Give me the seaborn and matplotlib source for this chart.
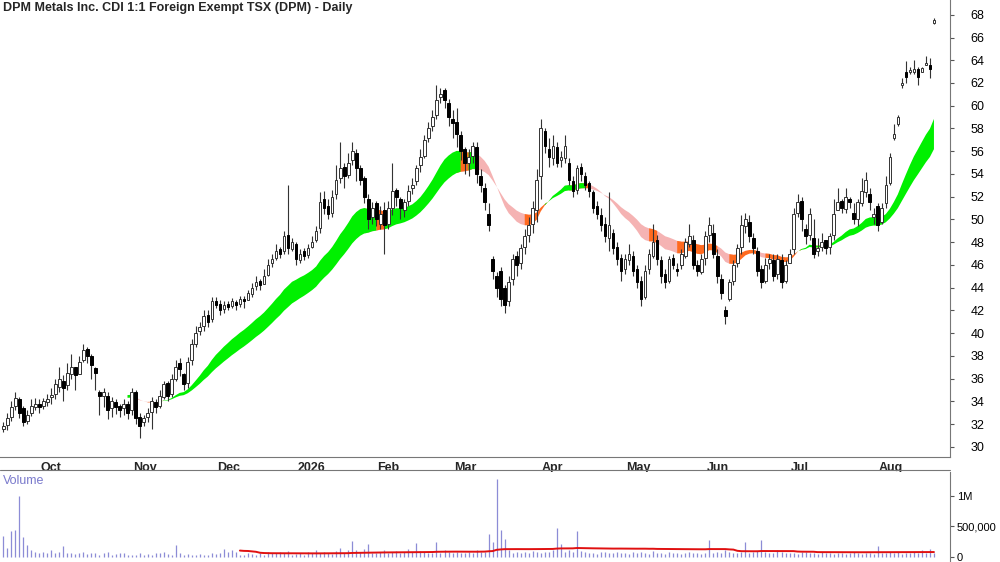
import numpy as np
import pandas as pd
import matplotlib
matplotlib.use("Agg")
import matplotlib.pyplot as plt
import seaborn as sns

sns.set_style("white")
plt.rcParams["font.family"] = ["Liberation Sans", "DejaVu Sans"]

# ---- daily candles, month by month (Sep tail 2025 .. Aug 2026) ----
closes = [
    31.8, 32.5, 33.5, 34.3, 33.0, 32.2, 32.8, 33.6, 33.8,
    33.5, 34.0, 34.2, 34.5, 35.5, 36.0, 35.2, 36.5, 37.0, 36.3, 37.5, 38.5, 38.0, 37.2, 36.5, 34.5, 34.8, 33.2, 34.0, 33.5, 33.2, 33.8, 33.0,
    34.8, 32.5, 31.8, 32.5, 33.0, 34.0, 33.5, 34.5, 35.5, 34.5, 36.0, 37.0, 36.8, 35.5, 37.5, 39.0, 40.0, 40.5, 41.5, 41.0, 42.8,
    42.5, 42.0, 42.5, 42.3, 42.8, 42.5, 43.0, 42.8, 43.5, 44.0, 44.5, 44.2, 45.0, 46.0, 46.5, 47.2, 47.0, 48.5, 47.5, 48.0,
    46.5, 47.0, 46.8, 47.5, 48.0, 49.0, 51.5, 51.0, 50.5, 52.0, 53.5, 54.5, 53.8, 55.0, 56.0, 54.5, 53.5, 52.0, 50.0, 51.0,
    50.0, 50.5, 49.5, 51.0, 52.5, 52.0, 51.0, 51.5, 52.5, 53.0, 54.5, 55.5, 57.0, 58.0, 59.0, 60.5, 61.0, 60.5, 59.0,
    58.5, 57.5, 56.0, 55.0, 55.5, 56.5, 54.0, 53.0, 51.5, 49.5, 45.5, 44.0, 43.0, 42.5, 44.5, 46.5, 46.0, 47.5, 48.5, 49.5, 51.0, 53.5,
    58.0, 56.5, 55.5, 56.5, 55.0, 55.5, 56.5, 53.5, 52.5, 54.5, 54.0, 53.0, 52.5, 51.0, 50.5, 49.5, 48.5, 49.5, 47.5, 46.5, 45.5,
    46.5, 47.0, 45.5, 44.5, 43.0, 45.5, 47.0, 48.0, 46.5, 45.0, 44.5, 46.5, 46.0, 45.5, 47.0, 48.0, 48.5, 46.0, 45.5, 46.5,
    48.5, 49.5, 47.0, 45.0, 43.5, 41.5, 44.5, 46.0, 47.5, 49.5, 50.0, 48.5, 47.5, 45.5, 44.5, 46.0, 46.5, 45.0, 46.5, 44.5, 46.0,
    47.0, 50.5, 51.5, 50.0, 48.5, 50.5, 47.0, 47.5, 48.0, 47.5, 48.5, 50.5, 51.5, 51.0, 52.0, 51.5, 50.0, 51.5, 52.5, 53.5, 51.5, 50.5,
    49.5, 51.0, 53.0, 55.5, 57.5, 59.0, 62.0, 62.5, 63.0, 63.2, 62.5, 63.3, 63.8, 63.2, 67.5,
]
opens = [
    31.6, 31.9, 32.6, 33.6, 34.2, 33.4, 32.3, 33.0, 33.5,
    33.8, 33.6, 33.9, 34.4, 34.6, 35.3, 35.8, 35.4, 36.4, 37.0, 36.4, 37.6, 38.6, 38.0, 36.9, 34.8, 34.5, 34.5, 33.4, 33.9, 33.6, 33.4, 33.8,
    33.2, 34.8, 32.6, 32.2, 32.6, 33.1, 33.9, 33.6, 34.4, 35.6, 34.6, 36.0, 37.4, 36.4, 35.6, 37.6, 39.0, 40.2, 40.6, 41.6, 41.2,
    42.8, 42.6, 42.1, 42.6, 42.4, 42.7, 42.6, 43.0, 42.9, 43.4, 44.1, 44.6, 44.3, 45.1, 46.2, 46.6, 47.4, 47.2, 48.6, 47.4,
    47.8, 46.4, 47.2, 46.9, 47.6, 48.2, 49.2, 51.8, 51.2, 50.6, 52.2, 53.6, 54.6, 53.9, 55.2, 55.8, 54.5, 53.6, 51.8, 50.2,
    51.4, 49.6, 50.8, 49.6, 51.0, 52.6, 51.8, 50.8, 51.6, 52.8, 53.4, 54.8, 55.6, 57.2, 58.2, 59.2, 60.8, 61.4, 60.2,
    58.8, 58.6, 57.4, 56.2, 55.0, 55.6, 56.4, 53.8, 52.8, 50.5, 46.5, 45.0, 45.5, 44.0, 42.8, 44.8, 46.8, 46.2, 47.6, 48.6, 49.6, 50.8,
    53.8, 57.8, 56.2, 55.4, 56.4, 55.2, 55.4, 55.0, 53.4, 52.6, 54.6, 53.8, 53.2, 52.4, 51.2, 50.4, 49.6, 48.4, 48.8, 47.6, 46.6,
    45.6, 46.4, 46.8, 45.6, 44.6, 43.2, 45.6, 46.8, 48.2, 46.4, 45.2, 44.6, 46.6, 45.6, 46.0, 46.8, 47.8, 48.2, 46.0, 45.4,
    46.6, 48.6, 48.8, 46.8, 44.8, 42.0, 43.0, 44.6, 46.2, 47.6, 49.4, 49.8, 48.4, 47.2, 45.6, 44.6, 46.2, 46.4, 45.2, 46.4, 44.6,
    46.2, 47.4, 50.6, 51.6, 49.2, 48.6, 48.4, 47.2, 47.6, 48.2, 47.6, 48.6, 50.8, 51.6, 50.9, 51.8, 50.6, 50.0, 51.4, 52.4, 52.2, 50.2,
    51.2, 49.8, 51.4, 53.2, 57.2, 58.4, 61.8, 63.0, 63.0, 63.0, 63.2, 63.0, 63.6, 63.6, 67.3,
]
highs = [
    32.2, 33.0, 34.0, 34.8, 34.4, 33.6, 33.2, 34.2, 34.3,
    34.2, 34.3, 34.6, 35.2, 36.0, 37.0, 36.3, 37.4, 38.2, 37.0, 38.0, 39.0, 38.8, 38.2, 37.0, 35.0, 35.2, 34.8, 34.4, 34.2, 33.8, 34.2, 34.0,
    35.2, 35.0, 33.0, 32.8, 33.4, 34.4, 34.2, 35.0, 35.8, 35.8, 36.4, 37.6, 37.8, 36.5, 37.9, 39.5, 40.6, 41.0, 42.0, 42.0, 43.2,
    43.2, 42.9, 42.8, 42.8, 43.1, 42.9, 43.3, 43.3, 43.8, 44.4, 45.0, 44.8, 45.6, 46.5, 47.0, 47.8, 47.6, 49.0, 53.0, 48.4,
    48.0, 47.4, 47.5, 47.8, 48.5, 49.4, 52.4, 52.5, 51.8, 52.6, 54.8, 56.8, 55.0, 55.8, 56.8, 56.2, 54.8, 53.8, 52.2, 51.5,
    51.6, 51.2, 51.5, 51.6, 55.0, 52.8, 52.0, 51.8, 53.0, 53.6, 54.8, 56.2, 57.4, 58.6, 59.6, 61.8, 61.6, 61.6, 60.6,
    59.6, 59.8, 57.8, 56.4, 56.2, 56.8, 56.8, 54.4, 53.2, 51.4, 46.8, 45.4, 45.8, 44.2, 45.0, 47.0, 47.2, 47.8, 49.2, 50.2, 51.6, 54.4,
    58.8, 58.0, 57.2, 57.4, 56.8, 56.0, 57.4, 55.4, 53.8, 54.8, 55.0, 54.2, 53.4, 52.6, 51.6, 51.0, 50.2, 52.4, 49.2, 48.0, 47.0,
    47.0, 47.8, 47.2, 46.0, 45.0, 46.0, 47.4, 49.6, 48.6, 46.8, 45.6, 46.8, 47.0, 46.2, 47.4, 48.4, 49.6, 48.6, 46.4, 47.0,
    49.0, 50.2, 49.6, 47.4, 45.2, 42.4, 44.8, 46.4, 47.8, 50.4, 50.6, 50.4, 48.8, 47.6, 46.0, 46.6, 47.0, 47.0, 47.0, 47.0, 46.4,
    47.4, 51.0, 52.2, 52.0, 49.6, 51.0, 50.0, 48.4, 48.8, 48.2, 48.8, 51.8, 52.8, 51.8, 52.8, 52.0, 51.4, 51.8, 53.6, 54.2, 52.8, 51.0,
    51.4, 51.4, 53.8, 55.8, 58.4, 59.2, 62.4, 63.9, 63.4, 64.0, 63.4, 63.4, 64.4, 64.2, 67.7,
]
lows = [
    31.3, 31.5, 32.3, 33.2, 32.5, 31.8, 32.0, 32.7, 33.2,
    33.0, 33.3, 33.6, 33.8, 34.2, 34.8, 34.0, 35.0, 36.0, 35.0, 36.8, 37.5, 37.4, 36.0, 35.0, 32.8, 33.5, 32.4, 32.6, 32.9, 32.6, 32.8, 32.4,
    32.8, 32.0, 30.8, 31.8, 32.2, 31.6, 33.0, 33.4, 34.2, 34.0, 34.4, 35.8, 36.2, 35.0, 35.2, 37.2, 38.8, 39.8, 40.2, 40.5, 41.0,
    42.2, 41.6, 41.8, 42.0, 42.2, 42.0, 42.3, 42.2, 43.0, 43.2, 43.8, 43.8, 44.6, 45.0, 45.8, 46.4, 46.6, 47.0, 47.0, 47.2,
    46.0, 46.2, 46.4, 46.6, 47.5, 48.0, 48.8, 50.5, 50.0, 50.2, 51.8, 53.2, 52.8, 53.6, 54.8, 53.4, 53.0, 51.4, 49.2, 49.6,
    49.4, 49.2, 47.0, 49.2, 50.4, 51.2, 50.0, 50.2, 51.2, 52.2, 53.0, 54.2, 55.4, 56.8, 57.8, 58.8, 60.2, 59.8, 58.2,
    57.2, 56.4, 55.2, 54.0, 53.8, 55.0, 53.2, 52.4, 50.8, 49.0, 44.8, 43.2, 42.4, 41.8, 42.4, 44.2, 45.0, 45.6, 47.0, 48.0, 48.8, 49.8,
    51.8, 55.8, 54.6, 54.8, 54.6, 54.6, 55.0, 53.0, 52.0, 52.2, 53.4, 52.6, 52.0, 50.6, 50.0, 49.0, 48.0, 47.2, 47.0, 46.0, 44.6,
    45.2, 46.0, 45.0, 44.0, 42.4, 43.0, 45.2, 46.6, 46.0, 44.4, 44.0, 44.4, 45.6, 45.0, 45.6, 46.6, 47.6, 45.6, 45.0, 45.2,
    46.0, 48.0, 46.6, 44.4, 43.0, 40.8, 42.8, 44.2, 45.8, 47.0, 48.8, 48.0, 47.0, 45.0, 44.0, 44.4, 45.6, 44.6, 44.8, 44.0, 44.4,
    46.4, 47.0, 50.2, 49.0, 47.8, 48.2, 46.6, 46.8, 47.2, 47.0, 47.0, 48.2, 50.8, 50.6, 50.6, 51.0, 49.6, 49.4, 51.2, 52.0, 50.8, 49.6,
    49.0, 49.6, 51.0, 53.0, 57.0, 58.2, 61.6, 62.0, 62.8, 62.8, 61.8, 63.0, 63.6, 62.4, 67.2,
]
volume_k = [
    350, 150, 430, 440, 1000, 330, 200, 120, 90,
    60, 80, 70, 110, 60, 90, 180, 60, 70, 50, 60, 80, 50, 60, 70, 40, 60, 90, 40, 50, 70, 60, 40,
    30, 40, 60, 30, 50, 40, 60, 60, 80, 50, 40, 190, 60, 40, 50, 30, 40, 50, 30, 40, 70,
    50, 60, 130, 90, 110, 80, 30, 40, 60, 50, 30, 60, 40, 80, 60, 70, 90, 60, 100, 40,
    50, 70, 40, 80, 60, 120, 70, 90, 60, 50, 100, 150, 60, 120, 270, 120, 80, 130, 220, 70,
    60, 80, 110, 70, 90, 100, 60, 80, 140, 80, 230, 100, 80, 70, 60, 250, 60, 120, 90,
    60, 80, 70, 60, 90, 70, 110, 80, 90, 380, 250, 1270, 440, 300, 120, 60, 80, 70, 90, 60, 100, 80,
    60, 90, 80, 120, 470, 220, 80, 110, 90, 420, 100, 80, 60, 70, 50, 90, 80, 60, 70, 90, 60,
    60, 50, 80, 70, 90, 60, 50, 100, 70, 60, 50, 80, 60, 70, 50, 60, 90, 70, 60, 50,
    60, 280, 70, 90, 60, 110, 80, 60, 70, 90, 250, 60, 80, 100, 280, 90, 70, 60, 110, 80, 60,
    70, 60, 50, 90, 80, 60, 70, 50, 80, 60, 70, 50, 60, 70, 50, 60, 80, 60, 50, 70, 60, 50,
    180, 60, 70, 80, 60, 90, 50, 60, 70, 80, 60, 110, 70, 130, 60,
]
month_labels = ["Oct", "Nov", "Dec", "2026", "Feb", "Mar", "Apr", "May", "Jun", "Jul", "Aug"]
month_start = [9, 32, 53, 73, 93, 112, 134, 155, 175, 196, 218]
price_ticks = list(range(30, 70, 2))

df = pd.DataFrame({"open": opens, "high": highs, "low": lows, "close": closes,
                   "volume": np.array(volume_k) * 1000.0})
df["i"] = np.arange(len(df))
fast = df["close"].ewm(span=21, adjust=False).mean()
slow = df["close"].ewm(span=34, adjust=False).mean()
df["vavg"] = df["volume"].rolling(60).mean()

fig = plt.figure(figsize=(10, 5.62), dpi=100)
ax = fig.add_axes([0, 1 - 457 / 562, 0.95, 457 / 562])
axv = fig.add_axes([0, 0, 0.95, 90 / 562])

# band of the two averages, coloured by state
start = 31
x = df["i"].values[start:]
f = fast.values[start:]
s = slow.values[start:]
fslope = np.diff(fast.values)[start - 1:]
green = (f >= s) & (fslope >= 0)
orange = ~green & (fslope >= -0.05)
pink = ~green & ~orange
for mask, col in [(pink, "#f5b3b3"), (orange, "#ff6a1f"), (green, "#00f000")]:
    m = mask | np.r_[mask[1:], False] | np.r_[False, mask[:-1]]
    ax.fill_between(x, f, s, where=m, color=col, lw=0, zorder=1)

# candles
up = df["close"] >= df["open"]
ax.vlines(df["i"], df["low"], df["high"], color="#333333", lw=0.8, zorder=2)
body_lo = np.minimum(df["open"], df["close"])
body_h = np.maximum((df["close"] - df["open"]).abs(), 0.12)
ax.bar(df["i"][up], body_h[up], bottom=body_lo[up], width=0.65,
       color="white", edgecolor="#333333", lw=0.7, zorder=3)
ax.bar(df["i"][~up], body_h[~up], bottom=body_lo[~up], width=0.65,
       color="black", edgecolor="black", lw=0.7, zorder=3)

xlim = (-0.8, 236)
ax.set_xlim(xlim)
ax.set_ylim(29.1, 69.3)
ax.yaxis.tick_right()
ax.set_yticks(price_ticks)
ax.tick_params(axis="y", labelsize=9, length=3, pad=12, colors="#555555", labelcolor="black")
ax.set_xticks(month_start)
ax.set_xticklabels([])
ax.tick_params(axis="x", length=4, direction="out", colors="#555555")
for pos, lab in zip(month_start, month_labels):
    ax.text(pos + 0.3, -0.012, lab, transform=ax.get_xaxis_transform(), ha="left", va="top",
            fontsize=9, fontweight="bold")
for sp in ["top", "left"]:
    ax.spines[sp].set_visible(False)
for sp in ["right", "bottom"]:
    ax.spines[sp].set_color("#777777")
ax.text(0.003, 0.995, "DPM Metals Inc. CDI 1:1 Foreign Exempt TSX (DPM) - Daily",
        transform=ax.transAxes, ha="left", va="top", fontsize=9, fontweight="bold")

# volume panel
axv.vlines(df["i"], 0, df["volume"], color="#8c8cd6", lw=0.9)
sns.lineplot(data=df, x="i", y="vavg", ax=axv, color="#e01010", lw=1.4)
axv.set_xlim(xlim)
axv.set_ylim(-80000, 1.39e6)
axv.yaxis.tick_right()
axv.set_yticks([0, 500000, 1000000])
axv.set_yticklabels(["0", "500,000", "1M"])
axv.tick_params(axis="y", labelsize=8, length=3, pad=2, colors="#555555", labelcolor="black")
axv.set_xticks([])
axv.set_xlabel("")
axv.set_ylabel("")
for sp in ["top", "left", "bottom"]:
    axv.spines[sp].set_visible(False)
axv.spines["right"].set_color("#777777")
axv.text(0.003, 0.97, "Volume", transform=axv.transAxes, ha="left", va="top",
         fontsize=9, color="#7a7acc")
fig.add_artist(plt.Line2D([0, 0.95], [1 - 470 / 562] * 2, color="#777777", lw=0.8))

fig.savefig("out.png", dpi=100)
